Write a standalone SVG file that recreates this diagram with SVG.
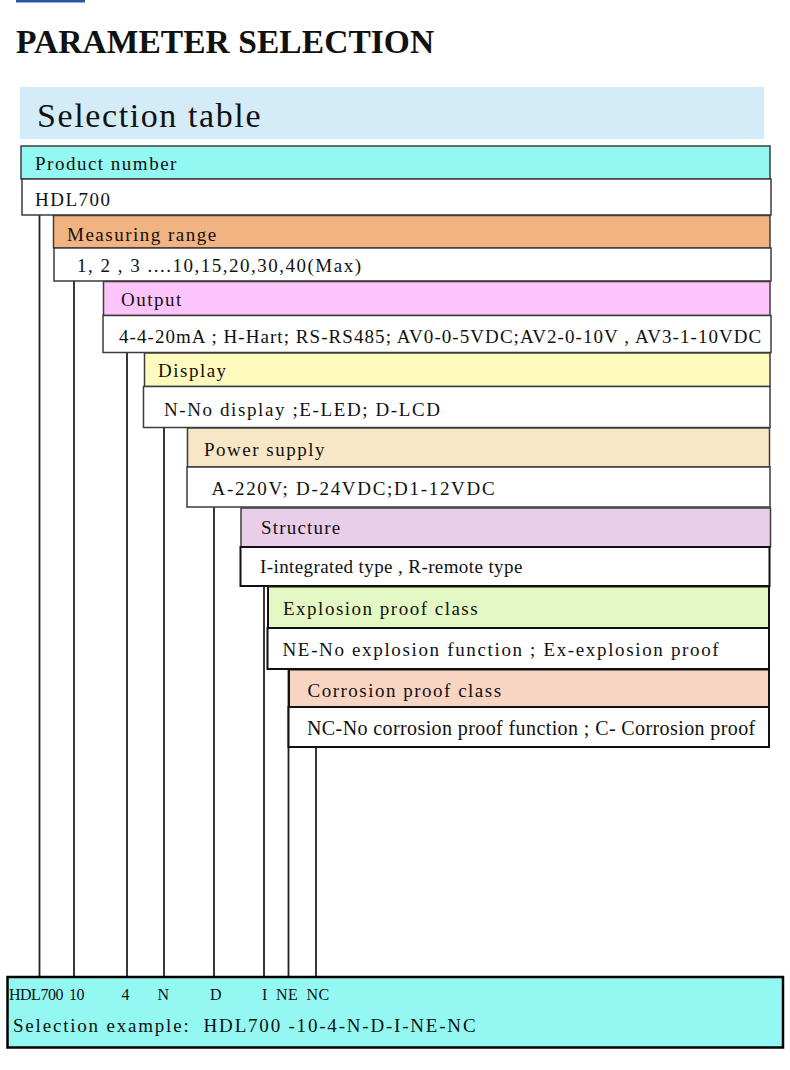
<svg xmlns="http://www.w3.org/2000/svg" width="790" height="1070" viewBox="0 0 790 1070">
<style>
  text { font-family: "Liberation Serif", "Times New Roman", serif; fill: #111; }
  .t { font-size: 19px; letter-spacing: 1.6px; }
  .box { stroke: #3c3c3c; stroke-width: 1.5; }
  .boxd { stroke: #111; stroke-width: 2; }
  .val { fill: #ffffff; }
  .conn line { stroke: #222; stroke-width: 1.8; }
  .lab { font-size: 16px; letter-spacing: -0.5px; }
</style>
<rect x="0" y="0" width="790" height="1070" fill="#ffffff"/>
<rect x="16" y="0" width="69" height="2.5" fill="#2b54a6"/>
<text x="16" y="53" style="font-size:33.5px;font-weight:bold;letter-spacing:0.05px" fill="#000">PARAMETER SELECTION</text>
<g id="selection-table-header">
  <rect x="20" y="87" width="744" height="52" fill="#d4ebf8"/>
  <text x="37" y="127" style="font-size:34px;letter-spacing:1.6px">Selection table</text>
</g>
<g id="connectors" class="conn">
  <line x1="39.5" y1="215" x2="39.5" y2="977"/>
  <line x1="74" y1="281" x2="74" y2="977"/>
  <line x1="127" y1="352" x2="127" y2="977"/>
  <line x1="164" y1="427" x2="164" y2="977"/>
  <line x1="214" y1="507" x2="214" y2="977"/>
  <line x1="264" y1="586" x2="264" y2="977"/>
  <line x1="288.5" y1="669" x2="288.5" y2="977"/>
  <line x1="316" y1="747" x2="316" y2="977"/>
</g>
<g id="product-number">
  <rect class="box" x="21" y="146" width="749" height="33" fill="#93f8f2"/>
  <text class="t" x="35" y="169.5" style="letter-spacing:1.5px">Product number</text>
  <rect class="box val" x="22" y="179" width="749" height="36"/>
  <text class="t" x="35" y="206" style="letter-spacing:1.5px">HDL700</text>
</g>
<g id="measuring-range">
  <rect class="box" x="53.5" y="215.5" width="716.5" height="32.5" fill="#f2b382"/>
  <text class="t" x="67" y="241" style="letter-spacing:1.5px">Measuring range</text>
  <rect class="box val" x="54" y="248" width="717" height="33"/>
  <text class="t" x="77" y="272" style="letter-spacing:1.5px">1, 2 , 3 ....10,15,20,30,40(Max)</text>
</g>
<g id="output">
  <rect class="box" x="103.5" y="281.5" width="666.5" height="34" fill="#fdc4fb"/>
  <text class="t" x="121" y="306" style="letter-spacing:1.5px">Output</text>
  <rect class="box val" x="103" y="315.5" width="668" height="37"/>
  <text class="t" x="119" y="342.5" style="letter-spacing:1.06px">4-4-20mA ; H-Hart; RS-RS485; AV0-0-5VDC;AV2-0-10V , AV3-1-10VDC</text>
</g>
<g id="display">
  <rect class="box" x="144.5" y="353" width="625.5" height="33.5" fill="#fffbbf"/>
  <text class="t" x="158" y="377" style="letter-spacing:1.5px">Display</text>
  <rect class="box val" x="143.5" y="386.5" width="626.5" height="41"/>
  <text class="t" x="164" y="415.5">N-No display ;E-LED; D-LCD</text>
</g>
<g id="power-supply">
  <rect class="box" x="187.5" y="428" width="582" height="39" fill="#f8e7c7"/>
  <text class="t" x="204" y="455.5" style="letter-spacing:1.5px">Power supply</text>
  <rect class="box val" x="187" y="467" width="583" height="40"/>
  <text class="t" x="211.5" y="494.5" style="letter-spacing:1.7px">A-220V; D-24VDC;D1-12VDC</text>
</g>
<g id="structure">
  <rect class="box" x="241" y="508" width="529.5" height="39" fill="#e9cee9"/>
  <text class="t" x="261" y="534" style="letter-spacing:1.2px">Structure</text>
  <rect class="boxd val" x="240.5" y="547" width="529" height="39"/>
  <text class="t" x="260" y="573" style="letter-spacing:0.4px">I-integrated type , R-remote type</text>
</g>
<g id="explosion-proof-class">
  <rect class="boxd" x="268" y="586.5" width="501" height="41.5" fill="#e4f8c3"/>
  <text class="t" x="283" y="614.5" style="letter-spacing:1.5px">Explosion proof class</text>
  <rect class="boxd val" x="267.5" y="628" width="501.5" height="41"/>
  <text class="t" x="282.5" y="655.5" style="letter-spacing:1.65px">NE-No explosion function ; Ex-explosion proof</text>
</g>
<g id="corrosion-proof-class">
  <rect class="boxd" x="289" y="669.5" width="480" height="37.5" fill="#f7d5c2"/>
  <text class="t" x="307.5" y="697" style="letter-spacing:1.5px">Corrosion proof class</text>
  <rect class="boxd val" x="288.5" y="707" width="480.5" height="40"/>
  <text class="t" x="307" y="735" style="font-size:20px;letter-spacing:0.4px">NC-No corrosion proof function ; C- Corrosion proof</text>
</g>
<g id="selection-example">
  <rect x="7.5" y="977" width="775.5" height="70.5" fill="#94f8f2" stroke="#000" stroke-width="2.5"/>
  <text class="lab" x="9" y="1000">HDL700</text>
  <text class="lab" x="69" y="1000">10</text>
  <text class="lab" x="121.5" y="1000">4</text>
  <text class="lab" x="157.5" y="1000">N</text>
  <text class="lab" x="210" y="1000">D</text>
  <text class="lab" x="262" y="1000">I</text>
  <text class="lab" x="276" y="1000" style="letter-spacing:0.5px">NE</text>
  <text class="lab" x="306.5" y="1000" style="letter-spacing:0.5px">NC</text>
  <text class="t" x="13" y="1032" style="letter-spacing:1.8px">Selection example: &#160;HDL700 -10-4-N-D-I-NE-NC</text>
</g>
</svg>
